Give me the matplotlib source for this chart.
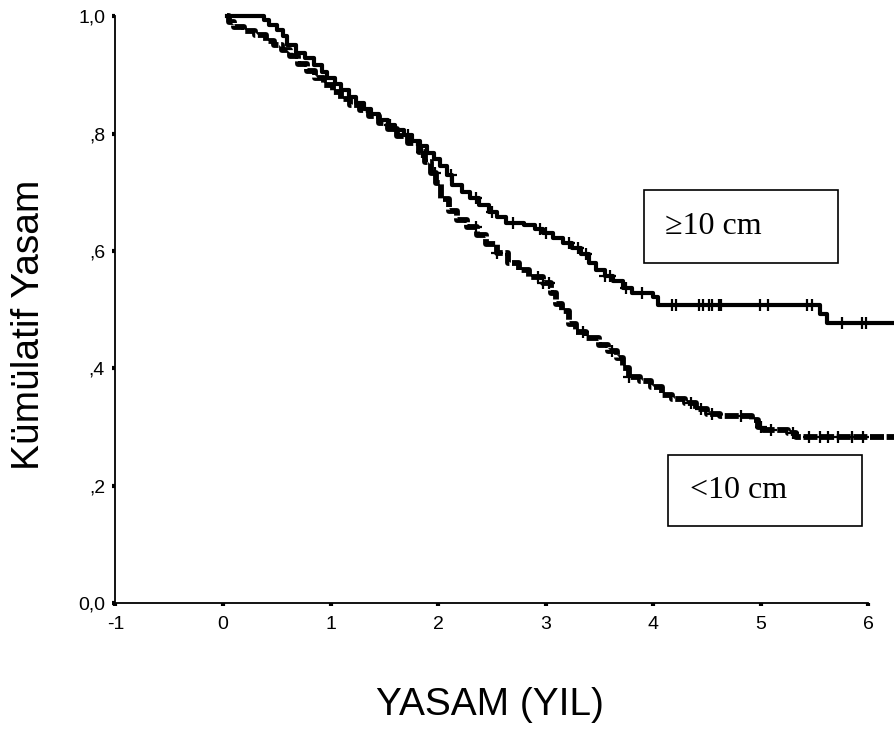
import matplotlib
matplotlib.use("Agg")
import matplotlib.pyplot as plt
from matplotlib.patches import Rectangle
import numpy as np

# Kaplan-Meier estimates, tumour size >= 10 cm
big_t = [0.04, 0.38, 0.43, 0.50, 0.56, 0.60, 0.68, 0.76, 0.85, 0.92, 0.97, 1.04,
         1.10, 1.17, 1.24, 1.31, 1.38, 1.45, 1.53, 1.60, 1.68, 1.76, 1.83, 1.90,
         1.96, 2.02, 2.08, 2.13, 2.22, 2.30, 2.38, 2.47, 2.55, 2.63, 2.80, 2.90,
         2.98, 3.07, 3.16, 3.25, 3.33, 3.40, 3.47, 3.55, 3.63, 3.72, 3.80, 4.00,
         4.05, 5.55, 5.62, 6.25]
big_s = [1.000, 0.993, 0.985, 0.976, 0.966, 0.950, 0.938, 0.928, 0.917, 0.905, 0.895, 0.884,
         0.874, 0.862, 0.852, 0.842, 0.833, 0.823, 0.815, 0.806, 0.797, 0.788, 0.778, 0.767,
         0.757, 0.745, 0.730, 0.712, 0.700, 0.690, 0.678, 0.666, 0.657, 0.648, 0.644, 0.637,
         0.630, 0.622, 0.614, 0.605, 0.594, 0.580, 0.568, 0.557, 0.548, 0.537, 0.529, 0.522,
         0.508, 0.492, 0.477, 0.477]
big_cens = [1.55, 1.72, 2.12, 2.35, 2.50, 2.70, 2.95, 3.00, 3.22, 3.30, 3.38, 3.55,
            3.60, 3.75, 3.90, 4.18, 4.21, 4.43, 4.46, 4.52, 4.55, 4.61, 4.63, 4.99,
            5.07, 5.43, 5.48, 5.76, 5.94, 5.98]

# Kaplan-Meier estimates, tumour size < 10 cm
small_t = [0.04, 0.06, 0.10, 0.20, 0.30, 0.40, 0.47, 0.55, 0.62, 0.70, 0.78, 0.86,
           0.94, 1.02, 1.10, 1.18, 1.27, 1.36, 1.45, 1.53, 1.62, 1.72, 1.82, 1.88,
           1.93, 1.98, 2.03, 2.10, 2.18, 2.27, 2.36, 2.45, 2.55, 2.65, 2.75, 2.85,
           2.98, 3.05, 3.10, 3.15, 3.22, 3.28, 3.38, 3.50, 3.58, 3.66, 3.72, 3.78,
           3.88, 3.98, 4.08, 4.18, 4.30, 4.40, 4.50, 4.62, 4.92, 4.98, 5.02, 5.25,
           5.33, 6.25]
small_s = [1.000, 0.990, 0.981, 0.975, 0.968, 0.958, 0.950, 0.942, 0.932, 0.918, 0.906, 0.895,
           0.883, 0.870, 0.858, 0.849, 0.840, 0.830, 0.818, 0.808, 0.796, 0.783, 0.768, 0.752,
           0.733, 0.715, 0.688, 0.668, 0.652, 0.640, 0.627, 0.612, 0.596, 0.580, 0.567, 0.556,
           0.546, 0.528, 0.510, 0.497, 0.475, 0.461, 0.452, 0.440, 0.430, 0.418, 0.400, 0.385,
           0.378, 0.368, 0.355, 0.348, 0.340, 0.330, 0.322, 0.318, 0.311, 0.300, 0.295, 0.290,
           0.283, 0.283]
small_cens = [1.85, 1.97, 2.35, 2.55, 2.93, 2.98, 3.03, 3.35, 3.62, 3.78, 4.35, 4.45,
              4.55, 4.82, 5.00, 5.10, 5.30, 5.45, 5.55, 5.63, 5.72, 5.85, 5.95]

x_ticks = [-1, 0, 1, 2, 3, 4, 5, 6]
y_ticks = [0.0, 0.2, 0.4, 0.6, 0.8, 1.0]
y_ticklabels = ["0,0", ",2", ",4", ",6", ",8", "1,0"]

plt.rcParams['font.family'] = ['Liberation Sans', 'DejaVu Sans']

fig = plt.figure(figsize=(8.95, 7.34), dpi=100)
ax = fig.add_axes([0.129, 0.1785, 0.841, 0.7995])


def surv_at(times, surv, t):
    idx = np.searchsorted(times, t, side='right') - 1
    return surv[idx]


ax.step(big_t, big_s, where='post', color='black', lw=3.0, clip_on=False)
ax.plot(big_cens, [surv_at(big_t, big_s, t) for t in big_cens], ls='none',
        marker='+', ms=9, mew=1.6, color='black', clip_on=False)

ax.step(small_t, small_s, where='post', color='black', lw=4.2,
        dashes=(2.4, 0.45), clip_on=False)
ax.plot(small_cens, [surv_at(small_t, small_s, t) for t in small_cens], ls='none',
        marker='+', ms=9, mew=1.6, color='black', clip_on=False)

ax.set_xlim(-1, 6)
ax.set_ylim(0, 1.0)
ax.set_xticks(x_ticks)
ax.set_xticklabels([str(v) for v in x_ticks])
ax.set_yticks(y_ticks)
ax.set_yticklabels(y_ticklabels)
ax.tick_params(axis='both', length=2.5, width=3, labelsize=14, color='black')
ax.tick_params(axis='x', pad=7)
ax.tick_params(axis='y', pad=5)

for side in ['top', 'right']:
    ax.spines[side].set_visible(False)
for side in ['left', 'bottom']:
    ax.spines[side].set_linewidth(1.3)

fig.text(0.032, 0.557, "Kümülatif Yasam", rotation=90, fontsize=28,
         ha='center', va='center')
fig.text(0.547, 0.040, "YASAM (YIL)", fontsize=28, ha='center', va='center')

# group boxes
W, H = 895.0, 734.0
for (x0, y0, x1, y1), label, tx in [((644, 190, 838, 263), "\u226510 cm", 665),
                                    ((668, 455, 862, 526), "<10 cm", 690)]:
    fig.patches.append(Rectangle((x0 / W, 1 - y1 / H), (x1 - x0) / W, (y1 - y0) / H,
                                 transform=fig.transFigure, fill=False,
                                 edgecolor='black', lw=1.2))
    fig.text(tx / W, 1 - (y0 + y1) / 2 / H, label, fontsize=23,
             family=['Liberation Serif', 'DejaVu Serif'], ha='left', va='center')

fig.savefig("out.png", dpi=100)
